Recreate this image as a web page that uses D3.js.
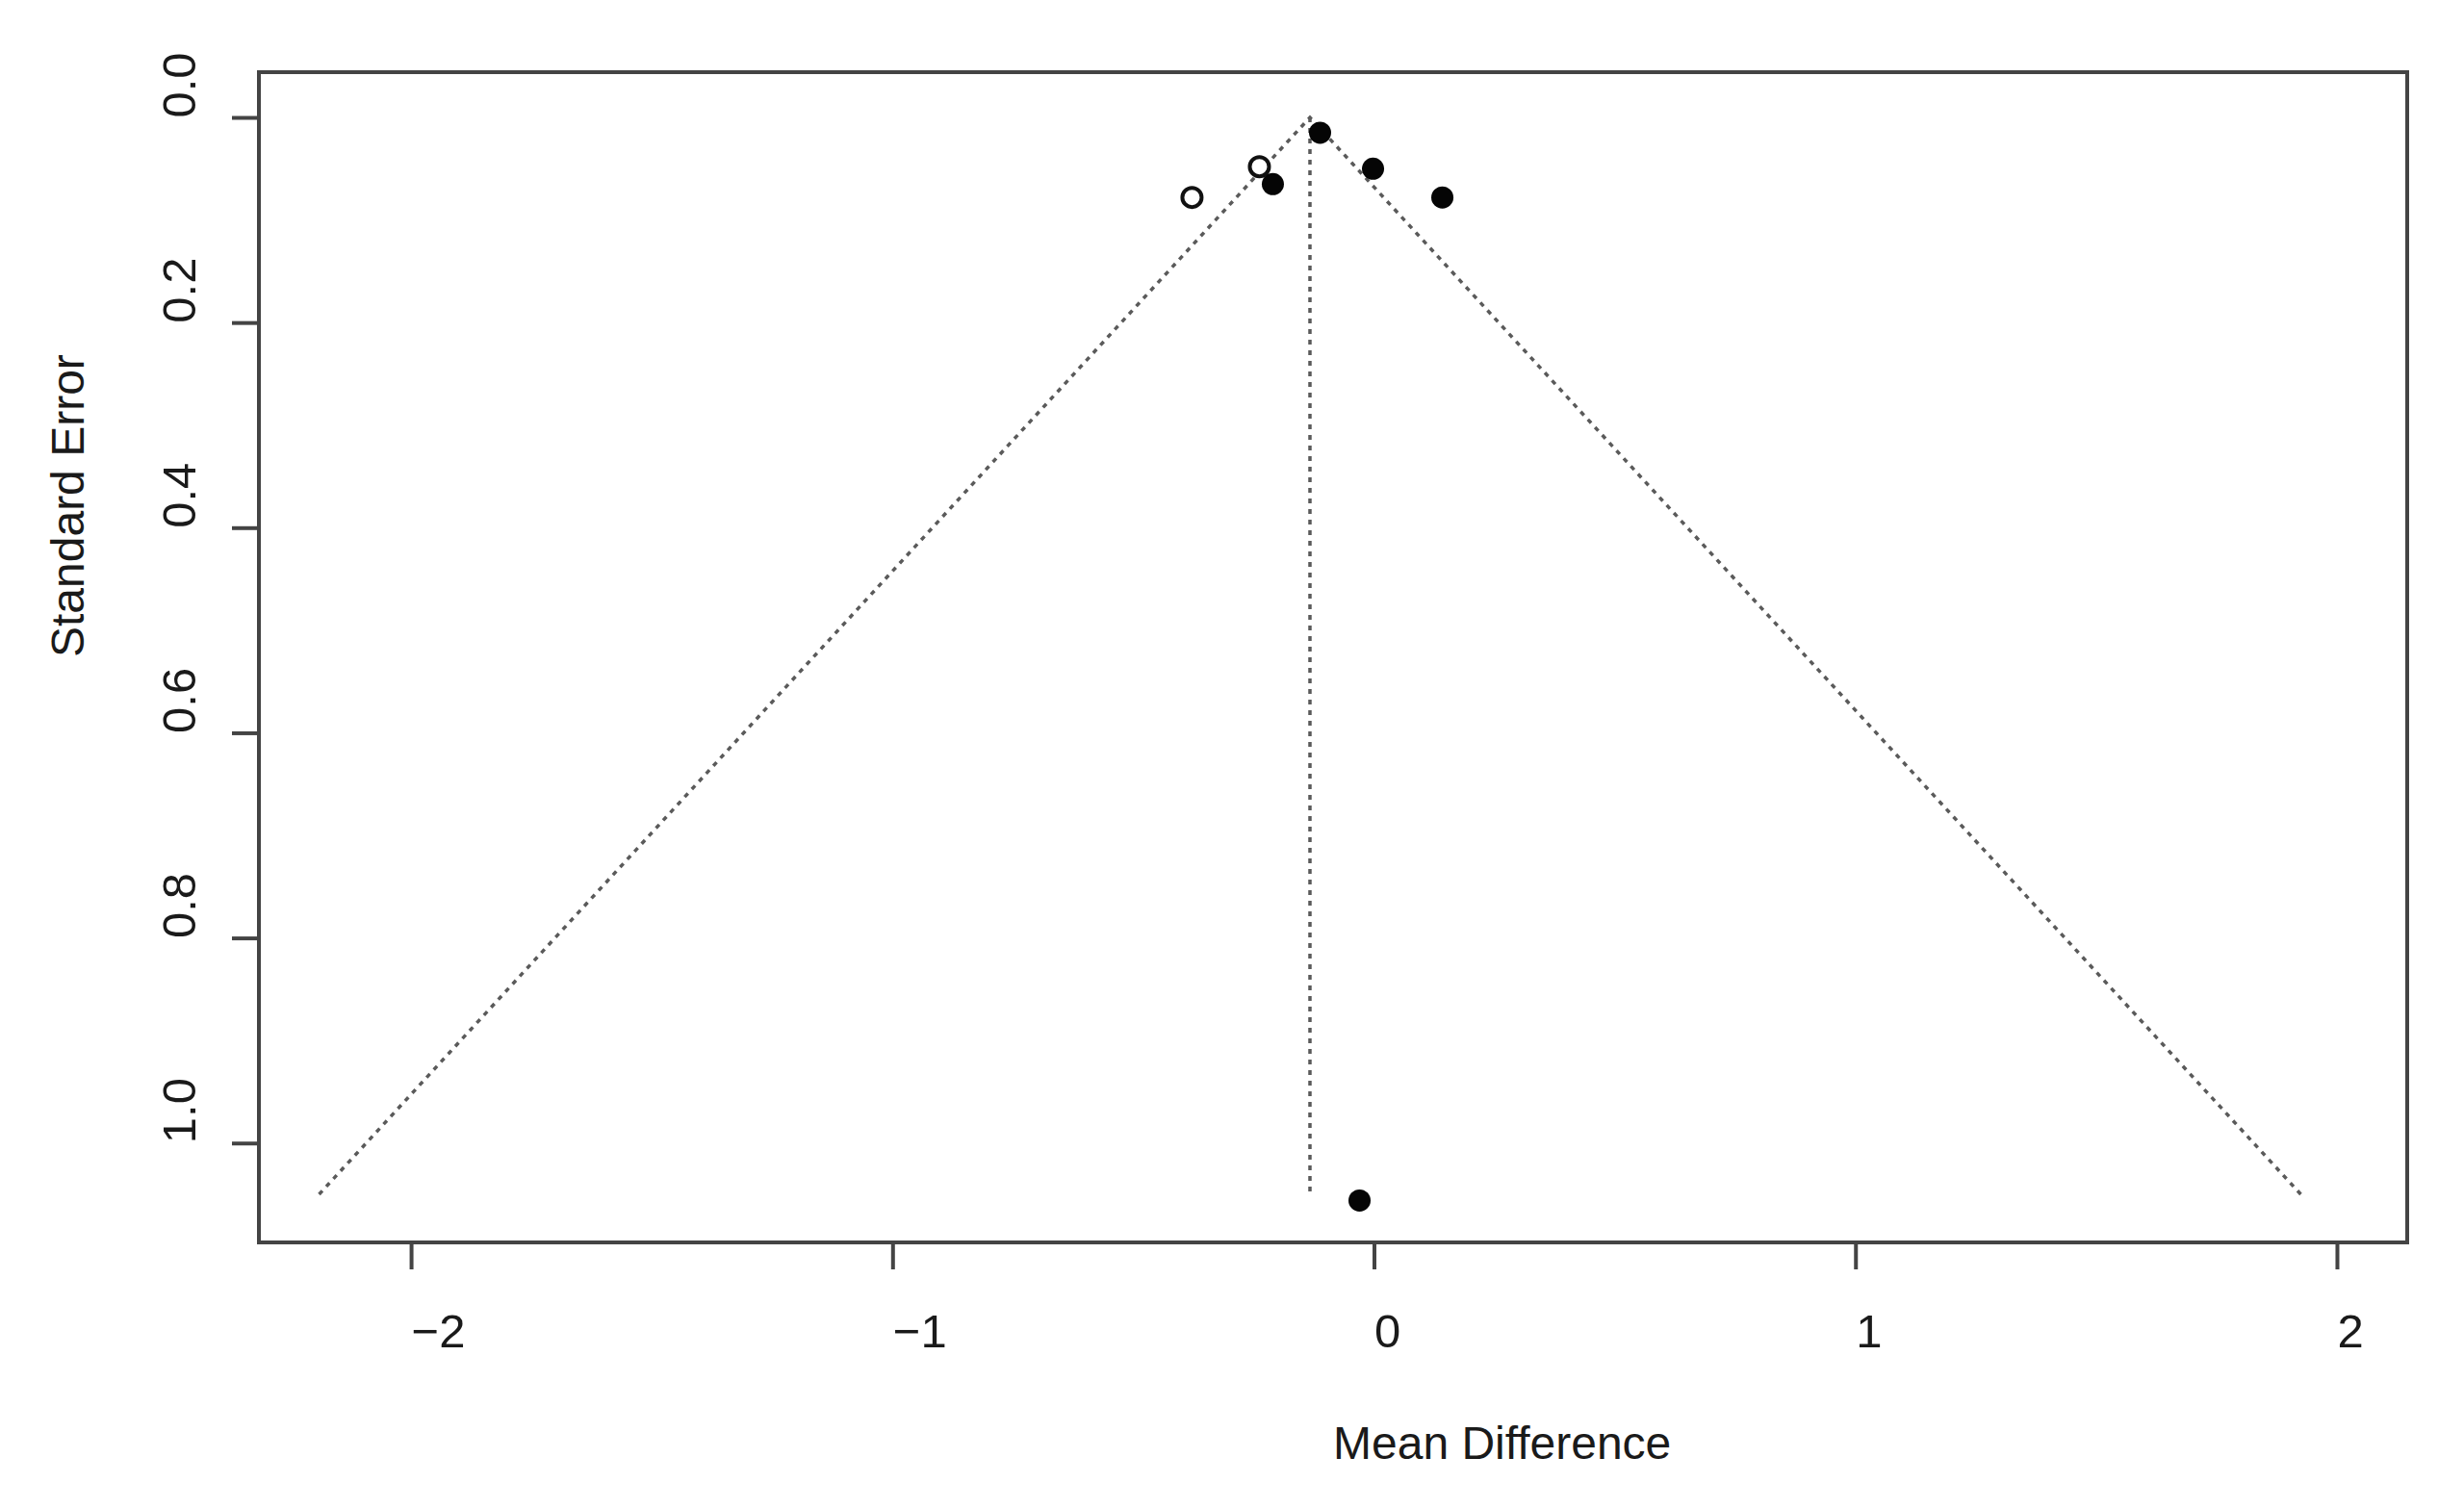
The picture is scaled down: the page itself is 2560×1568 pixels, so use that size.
<!DOCTYPE html>
<html>
<head>
<meta charset="utf-8">
<script src="https://cdn.jsdelivr.net/npm/d3@7"></script>
<style>
  html, body { margin: 0; padding: 0; background: #fff; }
  svg { display: block; }
  text { font-family: "Liberation Sans", Arial, sans-serif; fill: #1a1a1a; }
</style>
</head>
<body>
<svg id="chart" width="2560" height="1568"></svg>
<script>
// ---- data ----
const observedMD = [-0.112, -0.210, -0.002, 0.142, -0.030];
const observedSE = [0.015, 0.065, 0.050, 0.078, 1.056];
const imputedMD  = [-0.238, -0.378];
const imputedSE  = [0.048, 0.078];
const pooledEstimate = -0.133;
const maxSE = 1.050;
const zCrit = 1.96;
const xTickValues = [-2, -1, 0, 1, 2];
const yTickValues = [0.0, 0.2, 0.4, 0.6, 0.8, 1.0];
const xTitle = "Mean Difference";
const yTitle = "Standard Error";

// ---- layout ----
const W = 2560, H = 1568;
const plotL = 269, plotR = 2501, plotT = 75, plotB = 1291;
const svg = d3.select("#chart");
svg.append("rect").attr("width", W).attr("height", H).attr("fill", "#fff");

const x = d3.scaleLinear().domain([-2.316, 2.146]).range([plotL, plotR]);
const y = d3.scaleLinear().domain([-0.0441, 1.0969]).range([plotT, plotB]);

// funnel lines
const funnel = [
  [pooledEstimate - zCrit * maxSE, maxSE],
  [pooledEstimate, 0],
  [pooledEstimate + zCrit * maxSE, maxSE]
];
const line = d3.line().x(d => x(d[0])).y(d => y(d[1]));
svg.append("path")
  .attr("d", line(funnel))
  .attr("fill", "none")
  .attr("stroke", "#5a5a5a")
  .attr("stroke-width", 3.5)
  .attr("stroke-dasharray", "5 6");

// vertical reference line
svg.append("path")
  .attr("d", line([[pooledEstimate, 0], [pooledEstimate, maxSE]]))
  .attr("fill", "none")
  .attr("stroke", "#5a5a5a")
  .attr("stroke-width", 3.5)
  .attr("stroke-dasharray", "5 6");

// imputed (open) points
const imputed = imputedMD.map((m, i) => ({ md: m, se: imputedSE[i] }));
svg.selectAll("circle.imp").data(imputed).enter().append("circle")
  .attr("class", "imp")
  .attr("cx", d => x(d.md)).attr("cy", d => y(d.se))
  .attr("r", 10)
  .attr("fill", "#fff")
  .attr("stroke", "#111")
  .attr("stroke-width", 4);

// observed (filled) points
const observed = observedMD.map((m, i) => ({ md: m, se: observedSE[i] }));
svg.selectAll("circle.obs").data(observed).enter().append("circle")
  .attr("class", "obs")
  .attr("cx", d => x(d.md)).attr("cy", d => y(d.se))
  .attr("r", 11.5)
  .attr("fill", "#050505");

// axes
const xAxis = d3.axisBottom(x).tickValues(xTickValues).tickSize(28).tickSizeOuter(0)
  .tickFormat(d3.format("d"));
const gx = svg.append("g").attr("transform", `translate(0,${plotB})`).call(xAxis);
gx.select(".domain").remove();
gx.selectAll(".tick line").attr("stroke", "#444").attr("stroke-width", 4);
gx.selectAll(".tick text")
  .attr("y", 109).attr("dy", null).attr("x", 0)
  .attr("text-anchor", "start")
  .style("font-size", "49px")
  .style("font-family", "'Liberation Sans', Arial, sans-serif")
  .attr("fill", "#1a1a1a");

const yAxis = d3.axisLeft(y).tickValues(yTickValues).tickSize(28).tickSizeOuter(0)
  .tickFormat(d3.format(".1f"));
const gy = svg.append("g").attr("transform", `translate(${plotL},0)`).call(yAxis);
gy.select(".domain").remove();
gy.selectAll(".tick line").attr("stroke", "#444").attr("stroke-width", 4);
gy.selectAll(".tick text")
  .attr("x", 0).attr("y", 0).attr("dy", null)
  .attr("transform", "translate(-66,0) rotate(-90)")
  .attr("text-anchor", "start")
  .style("font-size", "49px")
  .style("font-family", "'Liberation Sans', Arial, sans-serif")
  .attr("fill", "#1a1a1a");

// plot box
svg.append("rect")
  .attr("x", plotL).attr("y", plotT)
  .attr("width", plotR - plotL).attr("height", plotB - plotT)
  .attr("fill", "none").attr("stroke", "#444").attr("stroke-width", 4);

// titles
svg.append("text")
  .attr("x", (plotL + plotR) / 2).attr("y", 1516)
  .attr("text-anchor", "start")
  .style("font-size", "48px")
  .text(xTitle);

svg.append("text")
  .attr("transform", `translate(87,${(plotT + plotB) / 2}) rotate(-90)`)
  .attr("text-anchor", "start")
  .style("font-size", "48px")
  .text(yTitle);
</script>
</body>
</html>
